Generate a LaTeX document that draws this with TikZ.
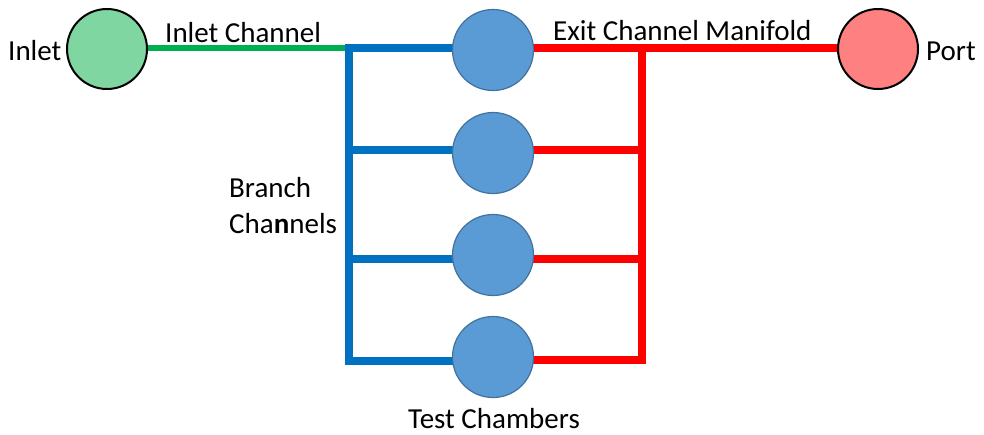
\documentclass[tikz,border=0pt]{standalone}
\usepackage{fontspec}
\setmainfont{Carlito}
\usetikzlibrary{backgrounds}
\definecolor{inletfill}{RGB}{128,214,160}
\definecolor{portfill}{RGB}{255,128,128}
\definecolor{chamberfill}{RGB}{91,155,213}
\definecolor{chamberedge}{RGB}{65,113,156}
\definecolor{greenline}{RGB}{0,176,80}
\definecolor{blueline}{RGB}{0,112,192}
\definecolor{redline}{RGB}{255,0,0}
\tikzset{
  portcircle/.style={circle, draw=black, line width=2pt, minimum size=80pt, inner sep=0pt},
  chamber/.style={circle, draw=chamberedge, line width=1.2pt, fill=chamberfill, minimum size=81pt, inner sep=0pt},
  inletpipe/.style={draw=greenline, line width=6pt},
  branchpipe/.style={draw=blueline, line width=7.5pt, line join=miter},
  exitpipe/.style={draw=redline, line width=8.5pt, line join=miter},
  label/.style={anchor=base west, inner sep=0pt, font=\fontsize{29}{34}\selectfont, text=black}
}
\begin{document}
\begin{tikzpicture}[x=1pt, y=-1pt]
  \useasboundingbox (0,0) rectangle (984,434);

  % end circles and test chambers
  \node[portcircle, fill=inletfill] (inlet) at (107,49) {};
  \node[portcircle, fill=portfill] (port) at (878,49) {};
  \node[chamber] (c1) at (493,50) {};
  \node[chamber] (c2) at (493,153) {};
  \node[chamber] (c3) at (493,255) {};
  \node[chamber] (c4) at (493,357) {};

  % junction points on the distribution and collection spines
  \coordinate (b1) at (349,48);
  \coordinate (b2) at (349,150);
  \coordinate (b3) at (349,259);
  \coordinate (b4) at (349,361);
  \coordinate (bend) at (349,365);
  \coordinate (j0) at (345,48);
  \coordinate (r1) at (642,48);
  \coordinate (r2) at (642,150);
  \coordinate (r3) at (642,259);
  \coordinate (r4) at (642,360);

  \begin{pgfonlayer}{background}
    % inlet channel
    \draw[inletpipe] (inlet.east |- j0) -- (j0);
    % branch channels
    \draw[branchpipe] (b1) -- (bend);
    \draw[branchpipe] (j0) -- (b1 -| c1.center);
    \draw[branchpipe] (b2) -- (b2 -| c2.center);
    \draw[branchpipe] (b3) -- (b3 -| c3.center);
    \draw[branchpipe] (b4) -- (b4 -| c4.center);
    % exit channel manifold
    \draw[exitpipe] (r1 -| c1.center) -- (r1 -| port.center);
    \draw[exitpipe] (r2 -| c2.center) -- (r2) -- (r4) -- (r4 -| c4.center);
    \draw[exitpipe] (r1) -- (r2);
    \draw[exitpipe] (r3 -| c3.center) -- (r3);
  \end{pgfonlayer}

  % labels
  \node[label] (tinlet) at (8,60) {Inlet};
  \node[label] (tinch) at (165,42) {Inlet Channel};
  \node[label] (texit) at (553,40) {Exit Channel Manifold};
  \node[label] (tport) at (926,60) {Port};
  \node[label] (tbranch) at (229,197) {Branch};
  \node[label] (tchan) at (229,233) {Cha\textbf{n}nels};
  \node[label] (ttest) at (408,428) {Test Chambers};
\end{tikzpicture}
\end{document}
